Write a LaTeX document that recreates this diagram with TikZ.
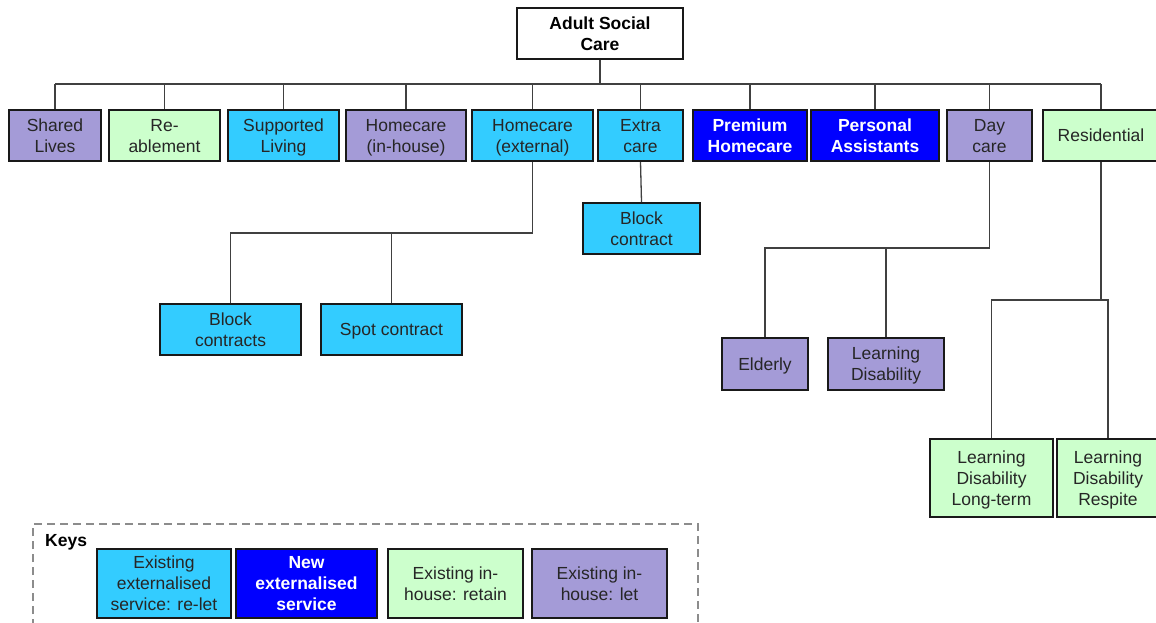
\documentclass[tikz,border=0pt]{standalone}
\usepackage{fontspec}
\setmainfont{Liberation Sans}
% struts that centre the lines of a box on their capital height
\newcommand{\capstrutTop}{\rule{0pt}{16pt}}
\newcommand{\capstrutBot}{\rule[-3.4pt]{0pt}{3.4pt}}
\newcommand{\bt}[1]{\capstrutTop#1\capstrutBot}
\begin{document}
\definecolor{lav}{HTML}{A49BD7}
\definecolor{mint}{HTML}{CCFFCC}
\definecolor{sky}{HTML}{33CCFF}
\definecolor{royal}{HTML}{0000FF}
\begin{tikzpicture}[x=1pt,y=-1pt,
  box/.style={draw=black!90, line width=2pt, minimum height=51pt, align=center,
    inner sep=1pt, text=black!85, font=\fontsize{17.5}{21}\selectfont},
  boldbox/.style={box, text=black, font=\fontsize{17.5}{21}\selectfont\bfseries},
  newbox/.style={box, fill=royal, text=white, font=\fontsize{17.5}{21}\selectfont\bfseries},
  conn/.style={draw=black!75, line width=1.3pt},
  keyframe/.style={draw=black!45, line width=1.6pt, dash pattern=on 8pt off 5pt}]
\useasboundingbox (0,0) rectangle (1156,622);

% top of the tree
\node[boldbox, minimum width=166pt] (root) at (600,33.5) {\bt{Adult Social\\Care}};

% first level services
\node[box, fill=lav,  minimum width=92pt]  (shared) at (55,135.5)   {\bt{Shared\\Lives}};
\node[box, fill=mint, minimum width=111pt] (reabl)  at (164.5,135.5) {\bt{Re-\\ablement}};
\node[box, fill=sky,  minimum width=111pt] (supp)   at (283.5,135.5) {\bt{Supported\\Living}};
\node[box, fill=lav,  minimum width=120pt] (hin)    at (406,135.5)  {\bt{Homecare\\(in-house)}};
\node[box, fill=sky,  minimum width=121pt] (hext)   at (532.5,135.5) {\bt{Homecare\\(external)}};
\node[box, fill=sky,  minimum width=85pt]  (extra)  at (640.5,135.5) {\bt{Extra\\care}};
\node[newbox, minimum width=114pt] (prem) at (750,135.5) {\bt{Premium\\Homecare}};
\node[newbox, minimum width=128pt] (pers) at (875,135.5) {\bt{Personal\\Assistants}};
\node[box, fill=lav,  minimum width=85pt]  (day)    at (989.5,135.5) {\bt{Day\\care}};
\node[box, fill=mint, minimum width=116pt] (resid)  at (1101,135.5) {\bt{Residential}};

% second level
\node[box, fill=sky, minimum width=117pt] (blkx)  at (641.5,228.5) {\bt{Block\\contract}};
\node[box, fill=sky, minimum width=141pt] (blk)   at (230.5,329.5) {\bt{Block\\contracts}};
\node[box, fill=sky, minimum width=141pt] (spot)  at (391.5,329.5) {\bt{Spot contract}};
\node[box, fill=lav, minimum width=86pt, minimum height=52pt]  (eld) at (765,364) {\bt{Elderly}};
\node[box, fill=lav, minimum width=116pt, minimum height=52pt] (ld)  at (886,364) {\bt{Learning\\Disability}};
\node[box, fill=mint, minimum width=123pt, minimum height=78pt] (ldlt) at (991.5,478) {\bt{Learning\\Disability\\Long-term}};
\node[box, fill=mint, minimum width=102pt, minimum height=78pt] (ldre) at (1108,478) {\bt{Learning\\Disability\\Respite}};

% junction levels
\coordinate (bus) at (0,84);
\coordinate (hj) at (0,233);
\coordinate (dj) at (0,248);
\coordinate (rj) at (0,300);

% connectors
\draw[conn] (root.south) -- (root.south |- bus);
\draw[conn] (shared.north |- bus) -- (resid.north |- bus);
\foreach \n in {shared,reabl,supp,hin,hext,extra,prem,pers,day,resid}
  \draw[conn] (\n.north) -- (\n.north |- bus);
\draw[conn] (extra.south) -- (blkx.north);
\draw[conn] (hext.south) |- (blk.north |- hj) -- (blk.north);
\draw[conn] (spot.north) -- (spot.north |- hj);
\draw[conn] (day.south) |- (eld.north |- dj) -- (eld.north);
\draw[conn] (ld.north) -- (ld.north |- dj);
\draw[conn] (resid.south) -- (resid.south |- rj);
\draw[conn] (ldlt.north) |- (ldre.north |- rj) -- (ldre.north);

% legend
\draw[keyframe] (33,640) -- (33,524) -- (698,524) -- (698,640);
\node[anchor=west, inner sep=0pt, font=\fontsize{17.5}{21}\selectfont\bfseries] (keys) at (45,542) {Keys};
\node[box, fill=sky, minimum width=134pt, minimum height=69pt] (k1) at (164,583.5) {\bt{Existing\\externalised\\service: re-let}};
\node[newbox, minimum width=141pt, minimum height=69pt] (k2) at (306.5,583.5) {\bt{New\\externalised\\service}};
\node[box, fill=mint, minimum width=135pt, minimum height=69pt] (k3) at (455.5,583.5) {\bt{Existing in-\\house: retain}};
\node[box, fill=lav, minimum width=135pt, minimum height=69pt] (k4) at (599.5,583.5) {\bt{Existing in-\\house: let}};
\end{tikzpicture}
\end{document}
